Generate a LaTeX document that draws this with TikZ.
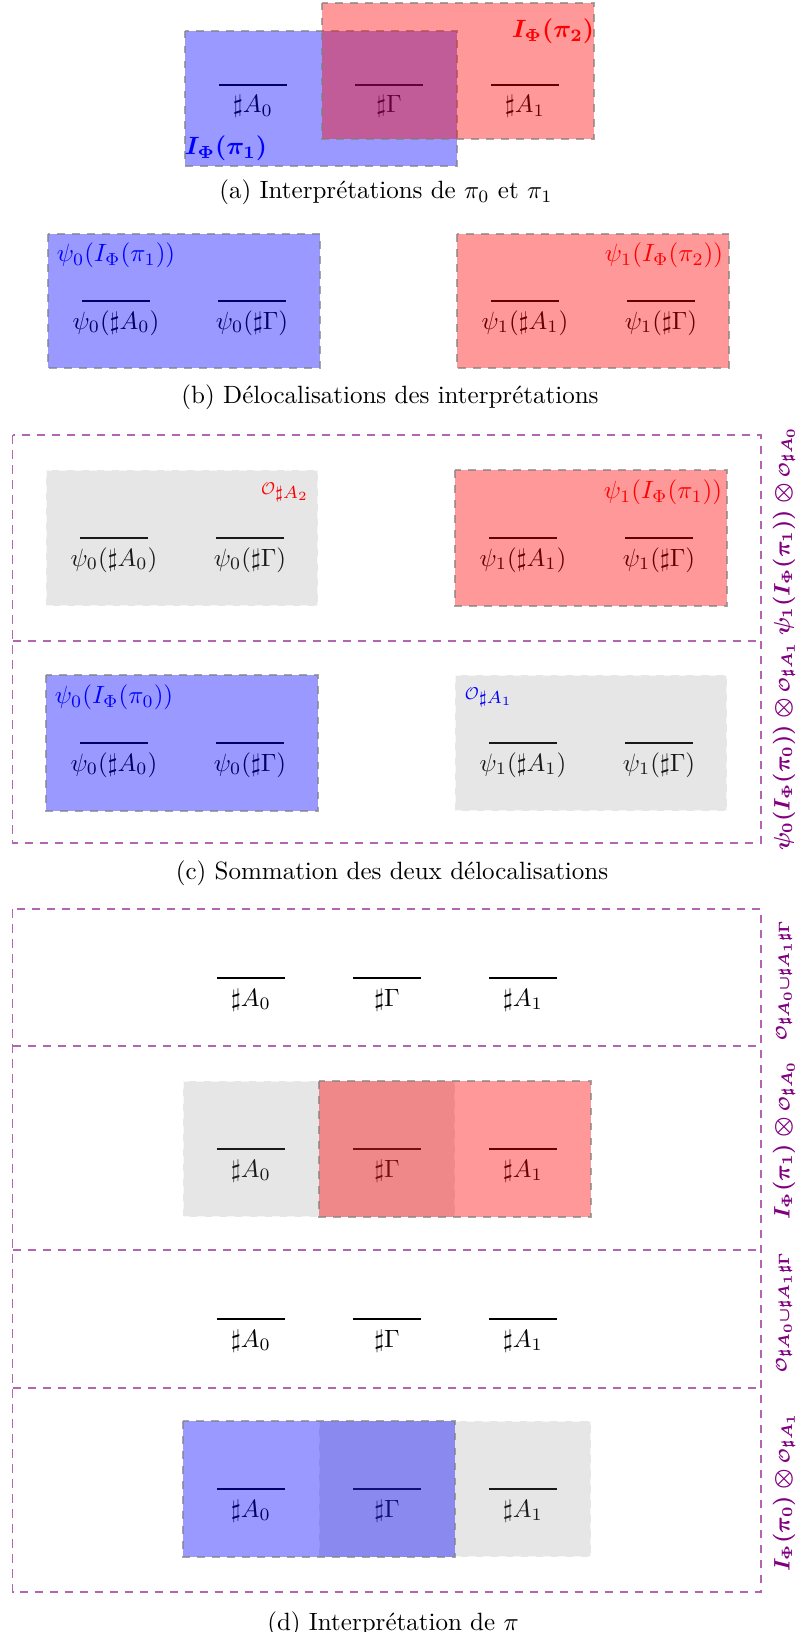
\documentclass[tikz,border=0pt]{standalone}
\usepackage{amsmath}
\usetikzlibrary{calc}
\newcommand\calo{\mathord{\scalebox{0.68}{$\mathcal{O}$}}}
\newcommand\mycell[4]{%
  \node[barnode] (#1) at (#2,#3) {};
  \draw[barline] (#1.west) -- (#1.east);
  \node[txt] (#1t) at ($(#1)+(0,28)$) {#4};}
\begin{document}
\begin{tikzpicture}[x=0.4pt,y=-0.4pt,
  barnode/.style={draw=none, minimum width=27.2pt, minimum height=0pt, inner sep=0pt, outer sep=0pt},
  barline/.style={line width=0.45pt},
  txt/.style={anchor=base, inner sep=0pt},
  bluebox/.style={fill=blue, fill opacity=0.4, draw=gray, draw opacity=0.7, dashed, line width=0.45pt},
  redbox/.style={fill=red, fill opacity=0.4, draw=gray, draw opacity=0.7, dashed, line width=0.45pt},
  graybox/.style={fill=gray, fill opacity=0.2, draw=white, draw opacity=0.7, dashed, line width=0.45pt},
  frame/.style={draw=violet!60, dash pattern=on 3.5pt off 2.5pt, line width=0.6pt},
  rowlab/.style={rotate=90, text=violet, font=\fontsize{8.6}{10}\selectfont\boldmath},
  captxt/.style={inner sep=0pt}
]
\useasboundingbox (0,0) rectangle (795,1632);

% ---------- (a)
\mycell{a0}{253}{85}{$\sharp A_0$}
\mycell{ag}{389}{85}{$\sharp\Gamma$}
\mycell{a1}{525}{85}{$\sharp A_1$}
\draw[bluebox] (185,31) rectangle (457,166);
\draw[redbox] (322,3) rectangle (594,139);
\node[anchor=north east, text=red, font=\boldmath] (la2) at (603,10) {$I_\Phi(\pi_2)$};
\node[anchor=south west, text=blue, font=\boldmath] (la1) at (176,170) {$I_\Phi(\pi_1)$};
\node[captxt] (capa) at (386,192) {(a) Interprétations de $\pi_0$ et $\pi_1$};

% ---------- (b)
\mycell{b0}{116}{301}{$\psi_0(\sharp A_0)$}
\mycell{bg}{252}{301}{$\psi_0(\sharp\Gamma)$}
\mycell{b1}{525}{301}{$\psi_1(\sharp A_1)$}
\mycell{bh}{661}{301}{$\psi_1(\sharp\Gamma)$}
\draw[bluebox] (48,234) rectangle (320,368);
\draw[redbox] (457,234) rectangle (729,368);
\node[anchor=north west, text=blue] (lb0) at (48,234) {$\psi_0(I_\Phi(\pi_1))$};
\node[anchor=north east, text=red] (lb1) at (732,234) {$\psi_1(I_\Phi(\pi_2))$};
\node[captxt] (capb) at (390,397) {(b) Délocalisations des interprétations};

% ---------- (c)
\draw[frame] (12.5,435) rectangle (761,843);
\draw[frame] (12.5,641) -- (761,641);
\mycell{c0}{114}{538}{$\psi_0(\sharp A_0)$}
\mycell{cg}{250}{538}{$\psi_0(\sharp\Gamma)$}
\mycell{c1}{523}{538}{$\psi_1(\sharp A_1)$}
\mycell{ch}{659}{538}{$\psi_1(\sharp\Gamma)$}
\mycell{d0}{114}{743}{$\psi_0(\sharp A_0)$}
\mycell{dg}{250}{743}{$\psi_0(\sharp\Gamma)$}
\mycell{d1}{523}{743}{$\psi_1(\sharp A_1)$}
\mycell{dh}{659}{743}{$\psi_1(\sharp\Gamma)$}
\draw[graybox] (46,470) rectangle (318,606);
\draw[redbox] (455,470) rectangle (727,606);
\draw[bluebox] (46,675) rectangle (318,811);
\draw[graybox] (455,675) rectangle (727,811);
\node[anchor=north east, text=red] (lc2) at (318,474) {$\calo_{\sharp A_2}$};
\node[anchor=north east, text=red] (lc1) at (731,471) {$\psi_1(I_\Phi(\pi_1))$};
\node[anchor=north west, text=blue] (lc3) at (46,676) {$\psi_0(I_\Phi(\pi_0))$};
\node[anchor=north west, text=blue] (lc4) at (456,679) {$\calo_{\sharp A_1}$};
\node[rowlab] (rc1) at (784,531) {$\psi_1(I_\Phi(\pi_1))\otimes\calo_{\sharp A_0}$};
\node[rowlab] (rc2) at (784,746) {$\psi_0(I_\Phi(\pi_0))\otimes\calo_{\sharp A_1}$};
\node[captxt] (capc) at (392,873) {(c) Sommation des deux délocalisations};

% ---------- (d)
\draw[frame] (12.5,909) rectangle (761,1592);
\draw[frame] (12.5,1046) -- (761,1046);
\draw[frame] (12.5,1250) -- (761,1250);
\draw[frame] (12.5,1388) -- (761,1388);
\mycell{e0}{251}{978}{$\sharp A_0$}
\mycell{eg}{387}{978}{$\sharp\Gamma$}
\mycell{e1}{523}{978}{$\sharp A_1$}
\mycell{f0}{251}{1149}{$\sharp A_0$}
\mycell{fg}{387}{1149}{$\sharp\Gamma$}
\mycell{f1}{523}{1149}{$\sharp A_1$}
\mycell{g0}{251}{1319}{$\sharp A_0$}
\mycell{gg}{387}{1319}{$\sharp\Gamma$}
\mycell{g1}{523}{1319}{$\sharp A_1$}
\mycell{h0}{251}{1489}{$\sharp A_0$}
\mycell{hg}{387}{1489}{$\sharp\Gamma$}
\mycell{h1}{523}{1489}{$\sharp A_1$}
\draw[graybox] (183,1081) rectangle (455,1217);
\draw[redbox] (319,1081) rectangle (591,1217);
\draw[graybox] (319,1421) rectangle (591,1557);
\draw[bluebox] (183,1421) rectangle (455,1557);
\node[rowlab] (rd1) at (784,980) {$\calo_{\sharp A_0\cup\sharp A_1\sharp\Gamma}$};
\node[rowlab] (rd2) at (784,1140) {$I_\Phi(\pi_1)\otimes\calo_{\sharp A_0}$};
\node[rowlab] (rd3) at (784,1312) {$\calo_{\sharp A_0\cup\sharp A_1\sharp\Gamma}$};
\node[rowlab] (rd4) at (784,1492) {$I_\Phi(\pi_0)\otimes\calo_{\sharp A_1}$};
\node[captxt] (capd) at (393,1624) {(d) Interprétation de $\pi$};
\end{tikzpicture}
\end{document}
